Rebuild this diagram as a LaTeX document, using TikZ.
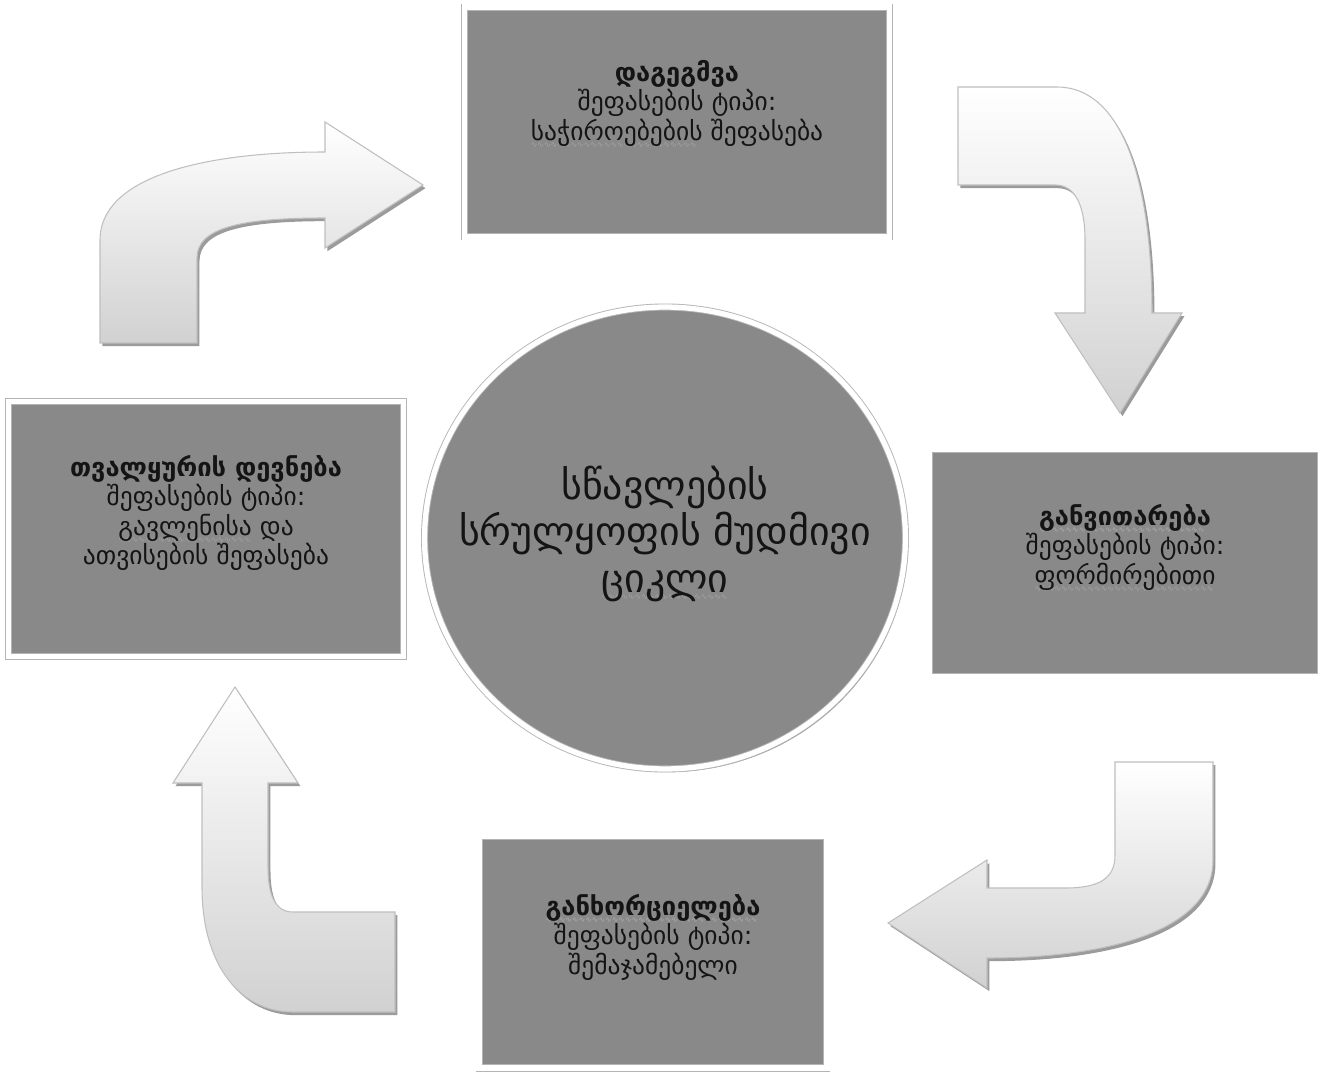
\documentclass[tikz,border=0pt]{standalone}
\usepackage{fontspec}
\setmainfont{DejaVu Sans}
\usetikzlibrary{shapes.geometric,shadows}

\definecolor{boxgray}{HTML}{898989}
\definecolor{inkgray}{HTML}{141414}
\definecolor{rimgray}{HTML}{B4B4B4}
\definecolor{sqcol}{HTML}{A4A4A4}

% faint wavy underline (spell-check style)
\newsavebox\sqbox
\newcommand\sq[1]{\sbox\sqbox{#1}\leavevmode\rlap{\raisebox{-4pt}[0pt][0pt]{\color{sqcol}\fontsize{4.5}{4.5}\selectfont\leaders\hbox{∿}\hskip\wd\sqbox}}\usebox\sqbox}

\tikzset{
  rimshadow/.style={drop shadow={shadow xshift=1.4pt, shadow yshift=-1.8pt, fill=black!65, opacity=0.6}},
  stagebox/.style={rectangle, fill=boxgray, draw=rimgray, double=white,
    double distance=3pt, line width=0.5pt, rimshadow},
  hub/.style={ellipse, fill=boxgray, draw=rimgray, double=white,
    double distance=3pt, line width=0.5pt, rimshadow},
  stagetext/.style={align=center, text=inkgray, font=\fontsize{14.5}{16.8}\selectfont},
  hubtext/.style={align=center, text=inkgray, font=\fontsize{22.7}{26.5}\selectfont},
  bentarrow/.style={draw=gray!50, line width=0.6pt, top color=white,
    bottom color=gray!36, rimshadow},
}

\begin{document}
\begin{tikzpicture}[x=0.02cm, y=-0.02cm]
\fill[white] (0,0) rectangle (1328,1074);
\useasboundingbox (0,0) rectangle (1328,1074);

% curved block arrows between the stages
\path[bentarrow] (100,343) -- (100,240) .. controls (100,178) and (200,152) .. (325,152)
  -- (325,122) -- (423,185) -- (325,248) -- (325,218)
  .. controls (240,218) and (197,228) .. (197,258) -- (197,343) -- cycle;

\path[bentarrow] (958,87) -- (1057,87) .. controls (1122,87) and (1152,180) .. (1152,313)
  -- (1182,313) -- (1120,413) -- (1055,313) -- (1085,313) -- (1085,240)
  .. controls (1085,205) and (1075,185) .. (1055,185) -- (958,185) -- cycle;

\path[bentarrow] (1115,762) -- (1213,762) -- (1213,860)
  .. controls (1213,930) and (1110,958) .. (987,958) -- (987,988) -- (888,923)
  -- (987,860) -- (987,888) -- (1065,888) .. controls (1100,888) and (1115,878) .. (1115,855) -- cycle;

\path[bentarrow] (395,912) -- (293,912) .. controls (275,912) and (268,895) .. (268,867)
  -- (268,783) -- (298,783) -- (235,687) -- (173,783) -- (202,783) -- (202,887)
  .. controls (202,965) and (240,1012) .. (293,1012) -- (395,1012) -- cycle;

% stage boxes
\node[stagebox, minimum width=8.5cm, minimum height=4.6cm] (plan) at (677,122) {};
\node[stagebox, minimum width=7.84cm, minimum height=4.56cm] (dev) at (1125,563) {};
\node[stagebox, minimum width=6.96cm, minimum height=4.64cm] (impl) at (653,952) {};
\node[stagebox, minimum width=7.9cm, minimum height=5.1cm] (monitor) at (206,529) {};

% central cycle
\node[hub, minimum width=9.62cm, minimum height=9.24cm] (cycle) at (665,538) {};

% texts
\node[stagetext] (planT) at (677,103)
  {\textbf{დაგეგმვა}\\შეფასების ტიპი:\\\sq{საჭიროებების} შეფასება};
\node[stagetext] (devT) at (1125,547)
  {\textbf{\sq{განვითარება}}\\შეფასების ტიპი:\\\sq{ფორმირებითი}};
\node[stagetext] (implT) at (653,937)
  {\textbf{\sq{განხორციელება}}\\შეფასების ტიპი:\\შემაჯამებელი};
\node[stagetext] (monitorT) at (206,513)
  {\textbf{თვალყურის დევნება}\\შეფასების ტიპი:\\\sq{გავლენისა} და\\ათვისების შეფასება};
\node[hubtext] (cycleT) at (665,534)
  {სწავლების\\სრულყოფის მუდმივი\\\sq{ციკლი}};
\end{tikzpicture}
\end{document}
